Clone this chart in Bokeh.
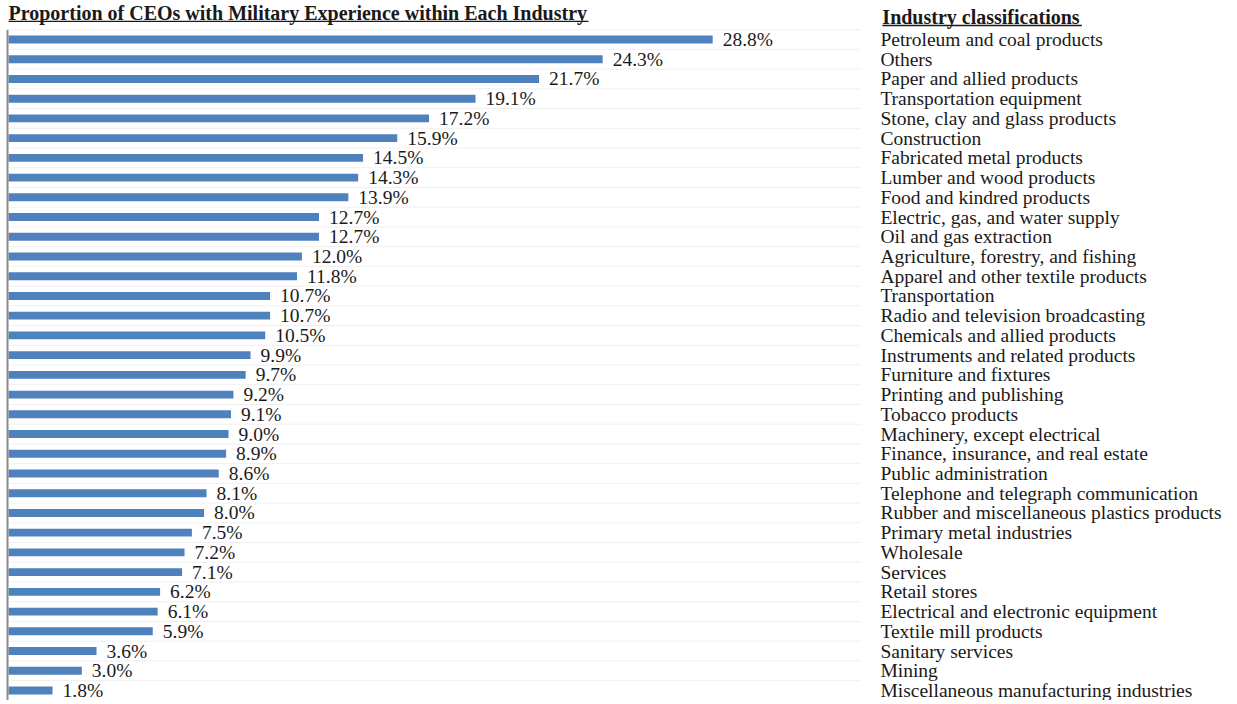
from bokeh.plotting import figure
from bokeh.models import ColumnDataSource, Range1d
from bokeh.core.properties import value
from bokeh.embed import file_html
from bokeh.resources import INLINE

industries = [
    "Petroleum and coal products", "Others", "Paper and allied products",
    "Transportation equipment", "Stone, clay and glass products", "Construction",
    "Fabricated metal products", "Lumber and wood products", "Food and kindred products",
    "Electric, gas, and water supply", "Oil and gas extraction",
    "Agriculture, forestry, and fishing", "Apparel and other textile products",
    "Transportation", "Radio and television broadcasting", "Chemicals and allied products",
    "Instruments and related products", "Furniture and fixtures", "Printing and publishing",
    "Tobacco products", "Machinery, except electrical", "Finance, insurance, and real estate",
    "Public administration", "Telephone and telegraph communication",
    "Rubber and miscellaneous plastics products", "Primary metal industries", "Wholesale",
    "Services", "Retail stores", "Electrical and electronic equipment",
    "Textile mill products", "Sanitary services", "Mining",
    "Miscellaneous manufacturing industries",
]
proportions = [28.8, 24.3, 21.7, 19.1, 17.2, 15.9, 14.5, 14.3, 13.9, 12.7, 12.7, 12.0,
               11.8, 10.7, 10.7, 10.5, 9.9, 9.7, 9.2, 9.1, 9.0, 8.9, 8.6, 8.1, 8.0, 7.5,
               7.2, 7.1, 6.2, 6.1, 5.9, 3.6, 3.0, 1.8]
title_text = "Proportion of CEOs with Military Experience within Each Industry"
legend_title = "Industry classifications"

W, H = 1229, 700
PX = 24.45     # pixels per percent
ROW = 19.727   # pixels per row
TOP = 39.0     # center of first row, px
LEFT = 8.0     # px of zero

n = len(industries)
rows = list(range(n))

p = figure(width=W, height=H, output_backend="svg", toolbar_location=None,
           x_range=Range1d(-LEFT / PX, (W - LEFT) / PX),
           y_range=Range1d((H - TOP) / ROW, -TOP / ROW),
           min_border=0, min_border_left=0, min_border_right=0,
           min_border_top=0, min_border_bottom=0)
p.axis.visible = False
p.grid.visible = False
p.outline_line_color = None
p.background_fill_color = "white"

serif = value("Liberation Serif")
ink = "#1a1a1a"

# faint row gridlines
gl = [i - 0.5 for i in range(n + 1)]
p.segment(x0=[0] * len(gl), x1=[34.85] * len(gl), y0=gl, y1=gl,
          line_color="#f0f0f0", line_width=1)

src = ColumnDataSource(dict(
    y=rows, v=proportions, ind=industries,
    lbl=[f"{v:.1f}%" for v in proportions],
    lx=[35.66] * n,
))

p.hbar(y="y", left=0, right="v", height=0.4, source=src,
       fill_color="#4F81BD", line_color=None)

# axis line
p.segment(x0=[-0.04], x1=[-0.04], y0=[-0.5], y1=[n - 0.5], line_color="#8c8c8c", line_width=2)

p.text(x="v", y="y", text="lbl", source=src, x_offset=10, text_baseline="middle",
       text_font=serif, text_font_size="19.5px", text_color=ink)
p.text(x="lx", y="y", text="ind", source=src, text_baseline="middle",
       text_font=serif, text_font_size="19.5px", text_color=ink)

# headings
p.text(x=[0], y=[-1.33], text=[title_text], text_baseline="middle",
       text_font=serif, text_font_size="20px", text_font_style="bold", text_color=ink)
p.segment(x0=[0], x1=[23.72], y0=[-0.92], y1=[-0.92], line_color=ink, line_width=1.3)
p.text(x=[35.74], y=[-1.12], text=[legend_title], text_baseline="middle",
       text_font=serif, text_font_size="20px", text_font_style="bold", text_color=ink)
p.segment(x0=[35.74], x1=[43.9], y0=[-0.71], y1=[-0.71], line_color=ink, line_width=1.3)

open("out.html", "w").write(file_html(p, INLINE))
